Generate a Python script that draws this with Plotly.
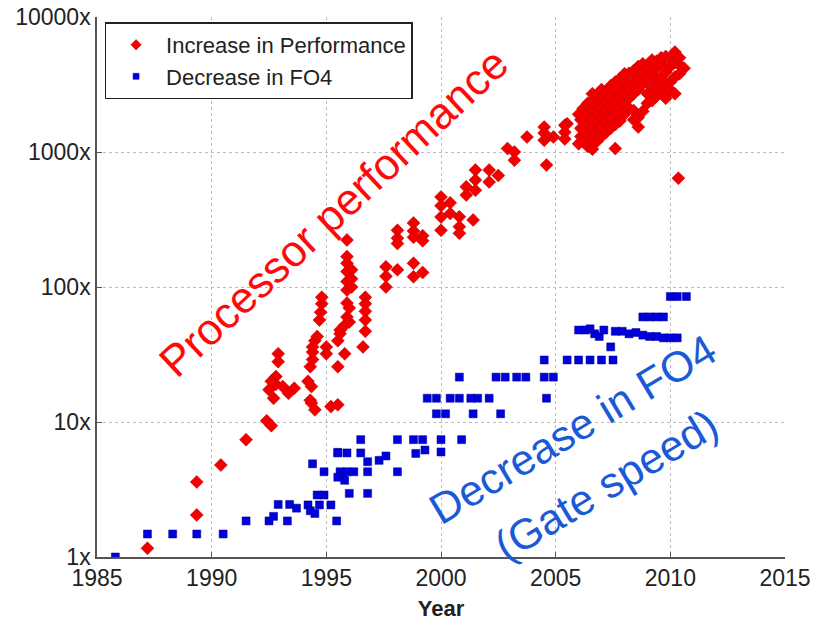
import plotly.graph_objects as go

# ---------------- data ----------------
perf_year = [
    1987.2, 1989.35, 1989.35, 1990.4, 1991.5, 1992.4, 1992.6,
    1992.5, 1992.7, 1992.8, 1992.8, 1992.9, 1992.9, 1993.1, 1993.35, 1993.6, 1992.6,
    1994.2, 1994.3, 1994.35, 1994.3, 1994.35, 1994.5, 1994.4, 1994.4, 1994.4, 1994.5,
    1994.6, 1994.7, 1994.75, 1994.8, 1994.8, 1995.0, 1995.0, 1995.2, 1995.5, 1995.5,
    1995.5, 1995.6, 1995.6, 1995.8, 1995.9, 1995.9, 1995.9, 1995.9, 1995.9, 1995.9,
    1995.9, 1996.1, 1996.1, 1996.1, 1995.9, 1995.8, 1996.0, 1996.0, 1996.7, 1996.7,
    1996.7, 1996.7, 1996.7, 1996.6, 1997.6, 1997.6, 1997.6, 1998.1, 1998.1, 1998.1,
    1998.1, 1998.8, 1998.8, 1998.8, 1998.8, 1998.8, 1999.2, 1999.2, 1999.2, 2000.0,
    2000.0, 2000.0, 2000.0, 2000.4, 2000.4, 2000.8, 2000.8, 2000.8, 2001.4, 2001.1,
    2001.1, 2001.5, 2001.5, 2001.5, 2002.1, 2002.1, 2002.5, 2002.9, 2003.2, 2003.2,
    2003.75, 2004.5, 2004.5, 2004.5, 2004.6, 2004.9, 2005.4, 2005.4, 2005.4, 2005.5,
    2006.0, 2006.1, 2006.1, 2006.1, 2006.0,
    2006.2, 2006.2, 2006.2, 2006.2,
    2006.4, 2006.4, 2006.4, 2006.4, 2006.4,
    2006.6, 2006.6, 2006.6, 2006.6, 2006.6, 2006.6, 2006.6,
    2006.8, 2006.8, 2006.8, 2006.8, 2006.8, 2006.8,
    2007.0, 2007.0, 2007.0, 2007.0, 2007.0, 2007.0,
    2007.2, 2007.2, 2007.2, 2007.2, 2007.2,
    2007.4, 2007.4, 2007.4, 2007.4, 2007.4,
    2007.6, 2007.6, 2007.6, 2007.6, 2007.6, 2007.6,
    2007.8, 2007.8, 2007.8, 2007.8, 2007.8,
    2008.0, 2008.0, 2008.0, 2008.0, 2008.0,
    2008.2, 2008.2, 2008.2, 2008.2,
    2008.4, 2008.4, 2008.4, 2008.4, 2008.4,
    2008.6, 2008.6, 2008.6, 2008.6, 2008.6,
    2008.8, 2008.8, 2008.8, 2008.8,
    2009.0, 2009.0, 2009.0, 2009.0,
    2009.2, 2009.2, 2009.2, 2009.2,
    2009.4, 2009.4, 2009.4, 2009.4,
    2009.6, 2009.6, 2009.6, 2009.6, 2009.6,
    2009.8, 2009.8, 2009.8, 2009.8,
    2010.0, 2010.0, 2010.0, 2010.0,
    2010.2, 2010.2, 2010.2, 2010.2,
    2010.4, 2010.4, 2010.4,
    2010.6, 2010.35,
]
perf_value = [
    1.16, 2.05, 3.6, 4.8, 7.4, 10.2, 9.4,
    17.3, 15, 21.7, 19, 32, 28, 18.3, 16.3, 17.8, 20,
    20, 25.7, 18.3, 14.5, 13.8, 12.3, 29, 33, 36, 40,
    43, 57, 65, 75, 84, 36, 32, 13, 13.4, 25.7,
    40, 45, 48, 32, 223, 168, 150, 130, 110, 95,
    76, 134, 115, 100, 60, 52, 70, 55, 84, 75,
    66, 57, 47, 36, 141, 120, 100, 134, 263, 230,
    210, 298, 260, 234, 150, 119, 128, 240, 220, 465,
    400, 330, 263, 420, 350, 331, 280, 250, 314, 552,
    480, 735, 620, 520, 735, 600, 670, 1060, 1000, 870,
    1290, 1530, 1380, 1220, 800, 1290, 1580, 1400, 1250, 1620,
    1150, 1300, 1500, 1730, 1900,
    1200, 1450, 1800, 2100,
    1100, 1350, 1600, 1900, 2300,
    1050, 1250, 1500, 1750, 2050, 2400, 2700,
    1200, 1400, 1650, 1950, 2250, 2600,
    1300, 1550, 1800, 2100, 2500, 2900,
    1400, 1700, 2000, 2350, 2800,
    1500, 1800, 2200, 2600, 3100,
    1060, 1600, 1950, 2400, 2900, 3300,
    1700, 2100, 2600, 3100, 3500,
    1900, 2300, 2800, 3400, 3800,
    2100, 2500, 3000, 3830,
    1730, 2030, 2700, 3300, 4000,
    1530, 1800, 2900, 3600, 4300,
    2000, 3200, 3900, 4500,
    2300, 2700, 3500, 4200,
    2400, 3000, 3800, 4800,
    2600, 3300, 4200, 4700,
    2720, 3000, 3600, 4500, 5000,
    2500, 3200, 3900, 5100,
    2880, 3300, 4300, 4900,
    2700, 3600, 4600, 5500,
    3800, 4400, 5000,
    4180, 640,
]

fo4_year = [
    1985.8, 1987.2, 1988.3, 1989.35, 1990.5, 1991.5, 1992.5, 1992.7, 1993.3,
    1992.9, 1993.4, 1993.7, 1994.2, 1994.3, 1994.6, 1994.5, 1994.7, 1994.9, 1995.2,
    1995.45, 1994.4, 1994.9, 1995.5, 1995.6, 1995.7, 1995.8, 1995.9, 1995.5, 1996.0,
    1996.2, 1996.5, 1995.5, 1995.9, 1996.5, 1996.8, 1996.8, 1996.8, 1997.3, 1997.6,
    1998.1, 1998.1, 1998.8, 1999.2, 1998.9, 1999.3, 2000.0, 2000.0, 2000.9,
    1999.4, 1999.8, 2000.4, 2000.8, 2001.3, 2001.6, 2002.1,
    1999.8, 2000.2, 2001.4, 2002.6,
    2000.8, 2002.4, 2002.8, 2003.3, 2003.7, 2004.5, 2004.9, 2004.6,
    2004.5, 2005.5, 2006.0, 2006.5, 2007.0, 2007.5,
    2006.0, 2006.3, 2006.5, 2006.7, 2006.9, 2007.1, 2007.4, 2007.6, 2007.9, 2008.2,
    2008.5, 2008.8, 2009.1, 2009.4, 2009.7, 2010.0, 2010.3,
    2008.8, 2009.1, 2009.4, 2009.7, 2010.0, 2010.3, 2010.7,
]
fo4_value = [
    1.0, 1.48, 1.48, 1.48, 1.48, 1.85, 1.85, 2.0, 1.85,
    2.45, 2.45, 2.3, 2.43, 2.2, 2.88, 2.1, 2.43, 2.88, 2.43,
    1.85, 4.9, 4.28, 5.96, 4.28, 3.93, 3.7, 4.28, 3.9, 2.96,
    4.28, 7.4, 5.9, 5.9, 5.9, 5.08, 4.28, 2.96, 5.2, 5.6,
    7.4, 4.28, 7.4, 7.4, 5.85, 6.2, 7.4, 6.0, 7.4,
    15, 15, 15, 15, 15, 15, 15,
    11.5, 11.5, 11.5, 11.5,
    21.5, 21.5, 21.5, 21.5, 21.5, 21.5, 21.5, 15,
    28.8, 28.8, 28.8, 28.8, 28.8, 28.8,
    48, 48, 49, 45, 43, 48, 36, 47, 47, 45,
    46, 44, 43, 43, 42, 42, 42,
    60, 60, 60, 60, 85, 85, 85,
]

y_tick_vals = [1, 10, 100, 1000, 10000]
y_tick_text = ["1x", "10x", "100x", "1000x", "10000x"]
x_tick_vals = [1985, 1990, 1995, 2000, 2005, 2010, 2015]

FONT = "Liberation Sans, Arial, Helvetica, sans-serif"
RED = "#f20000"
BLUE = "#0000dd"

fig = go.Figure()
fig.add_trace(go.Scatter(
    x=perf_year, y=perf_value, mode="markers", name="Increase in Performance",
    showlegend=False,
    marker=dict(symbol="diamond", size=10, color=RED,
                line=dict(color="#c00000", width=0.5)),
))
fig.add_trace(go.Scatter(
    x=fo4_year, y=fo4_value, mode="markers", name="Decrease in FO4",
    showlegend=False,
    marker=dict(symbol="square", size=8, color=BLUE,
                line=dict(color="#000090", width=0.5)),
))
# legend-only entries (smaller legend symbols, as in the original)
fig.add_trace(go.Scatter(
    x=[None], y=[None], mode="markers", name="Increase in Performance",
    marker=dict(symbol="diamond", size=8, color=RED, line=dict(color="#c00000", width=0.5)),
))
fig.add_trace(go.Scatter(
    x=[None], y=[None], mode="markers", name="Decrease in FO4",
    marker=dict(symbol="square", size=6, color=BLUE, line=dict(color="#000090", width=0.5)),
))

fig.update_layout(
    width=815, height=626,
    margin=dict(l=97, r=30, t=17, b=69),
    paper_bgcolor="white", plot_bgcolor="white",
    font=dict(family=FONT, size=22, color="#222"),
    showlegend=True,
    legend=dict(x=0.011, y=0.99, xanchor="left", yanchor="top",
                bordercolor="#222", borderwidth=1.5, bgcolor="white",
                font=dict(size=22, color="#222"), tracegroupgap=0,
                itemsizing="trace", itemwidth=50),
    xaxis=dict(
        range=[1985, 2015], tickvals=x_tick_vals, ticks="inside", ticklen=5,
        tickcolor="#555", showline=True, linecolor="#555", linewidth=1.5,
        showgrid=True, gridcolor="#bdbdbd", griddash="dot", gridwidth=1,
        zeroline=False, automargin=False, tickfont=dict(size=23, color="#222"),
        title=dict(text="<b>Year</b>", font=dict(size=22, color="#222"), standoff=10),
    ),
    yaxis=dict(
        type="log", range=[0, 4], tickvals=y_tick_vals, ticktext=y_tick_text,
        ticks="inside", ticklen=5, tickcolor="#555", showline=True,
        linecolor="#555", linewidth=1.5, showgrid=True, gridcolor="#bdbdbd",
        griddash="dot", gridwidth=1, zeroline=False, automargin=False,
        tickfont=dict(size=23, color="#222"),
    ),
)

fig.add_annotation(
    x=1995.3, y=2.55, xref="x", yref="y", yanchor="middle", xanchor="center",
    text="Processor performance", showarrow=False, textangle=-43,
    font=dict(family=FONT, size=44, color="#ff0a0a"),
)
fig.add_annotation(
    x=2005.75, y=0.95, xref="x", yref="y",
    text="Decrease in FO4", showarrow=False, textangle=-31,
    font=dict(family=FONT, size=43, color="#1a5ad8"),
)
fig.add_annotation(
    x=2007.2, y=0.53, xref="x", yref="y",
    text="(Gate speed)", showarrow=False, textangle=-31,
    font=dict(family=FONT, size=43, color="#1a5ad8"),
)

fig.write_html("out.html")
